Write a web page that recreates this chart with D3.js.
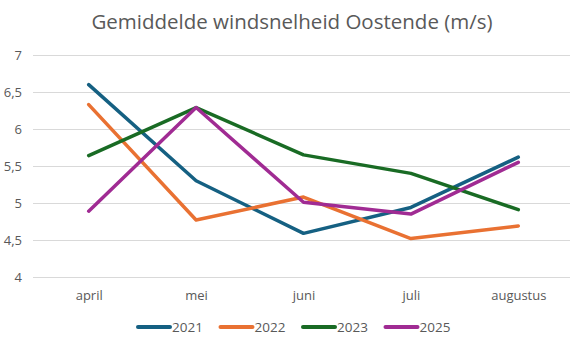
<!DOCTYPE html>
<html>
<head>
<meta charset="utf-8">
<script src="https://cdn.jsdelivr.net/npm/d3@7"></script>
<style>
  body { margin: 0; background: #fff; }
  svg { font-family: "Open Sans", "Liberation Sans", sans-serif; }
</style>
</head>
<body>
<div id="chart"></div>
<script>
var months = ["april", "mei", "juni", "juli", "augustus"];
var years = ["2021", "2022", "2023", "2025"];
var v2021 = [6.60, 5.30, 4.59, 4.94, 5.62];
var v2022 = [6.33, 4.77, 5.08, 4.52, 4.69];
var v2023 = [5.64, 6.29, 5.65, 5.40, 4.91];
var v2025 = [4.89, 6.29, 5.01, 4.85, 5.55];
var yTicks = [4, 4.5, 5, 5.5, 6, 6.5, 7];
var colors = ["#156082", "#E97132", "#196B24", "#A02B93"];

var series = [v2021, v2022, v2023, v2025].map(function(vals, i) {
  return { name: years[i], color: colors[i], values: vals };
});

var width = 577, height = 340;
var margin = { top: 55, right: 5, bottom: 63, left: 35 };

var svg = d3.select("#chart").append("svg")
  .attr("width", width)
  .attr("height", height);

var locale = d3.formatLocale({ decimal: ",", thousands: ".", grouping: [3], currency: ["€", ""] });
var fmt = locale.format("~g");

var x = d3.scalePoint()
  .domain(months)
  .range([margin.left, width - margin.right])
  .padding(0.5);

var y = d3.scaleLinear()
  .domain([4, 7])
  .range([height - margin.bottom, margin.top]);

// title
svg.append("text")
  .attr("x", 292)
  .attr("y", 29)
  .attr("text-anchor", "middle")
  .style("font-size", "20.5px")
  .style("fill", "#595959")
  .text("Gemiddelde windsnelheid Oostende (m/s)");

// gridlines
svg.append("g").selectAll("line")
  .data(yTicks)
  .enter().append("line")
  .attr("x1", margin.left - 2)
  .attr("x2", width - margin.right - 2)
  .attr("y1", function(d) { return Math.round(y(d)) + 0.5; })
  .attr("y2", function(d) { return Math.round(y(d)) + 0.5; })
  .style("stroke", "#d9d9d9")
  .style("stroke-width", 1);

// y axis labels
var yAxis = svg.append("g")
  .attr("transform", "translate(" + (margin.left - 10) + ",0)")
  .call(d3.axisLeft(y).tickValues(yTicks).tickFormat(fmt).tickSize(0).tickPadding(3));
yAxis.select(".domain").remove();
yAxis.selectAll("text")
  .style("font-size", "13px")
  .style("fill", "#595959")
  .style("font-family", "'Open Sans', sans-serif");

// x axis labels
var xAxis = svg.append("g")
  .attr("transform", "translate(0," + (height - margin.bottom) + ")")
  .call(d3.axisBottom(x).tickSize(0).tickPadding(14));
xAxis.select(".domain").remove();
xAxis.selectAll("text")
  .style("font-size", "13px")
  .style("fill", "#595959")
  .style("font-family", "'Open Sans', sans-serif");

// lines
var line = d3.line()
  .x(function(d, i) { return x(months[i]); })
  .y(function(d) { return y(d); });

svg.append("g").selectAll("path")
  .data(series)
  .enter().append("path")
  .attr("d", function(d) { return line(d.values); })
  .style("fill", "none")
  .style("stroke", function(d) { return d.color; })
  .style("stroke-width", 3.5)
  .style("stroke-linejoin", "round")
  .style("stroke-linecap", "round");

// legend
var legend = svg.append("g").selectAll("g")
  .data(series)
  .enter().append("g")
  .attr("transform", function(d, i) { return "translate(" + (138 + i * 82.5) + ",327)"; });

legend.append("line")
  .attr("x1", 0)
  .attr("x2", 32)
  .style("stroke", function(d) { return d.color; })
  .style("stroke-width", 4)
  .style("stroke-linecap", "round");

legend.append("text")
  .attr("x", 34)
  .attr("dy", "0.35em")
  .style("font-size", "13.5px")
  .style("fill", "#595959")
  .text(function(d) { return d.name; });
</script>
</body>
</html>
